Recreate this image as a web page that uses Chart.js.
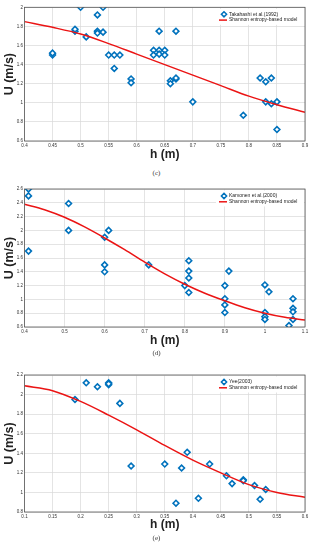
<!DOCTYPE html>
<html>
<head>
<meta charset="utf-8">
<script src="https://cdn.jsdelivr.net/npm/chart.js@4.4.0/dist/chart.umd.min.js"></script>
<style>
  body { margin: 0; background: #fff; width: 313px; height: 550px; position: relative; overflow: hidden; }
  .panel { position: absolute; left: 0; width: 313px; }
  .cap { position: absolute; left: 0; width: 313px; text-align: center; font-family: "Liberation Serif", serif; font-size: 7px; line-height: 8px; color: #333; }
</style>
</head>
<body>
<div class="panel" style="top:0;height:165px"><canvas id="chartC"></canvas></div>
<div class="cap" style="top:169px">(c)</div>
<div class="panel" style="top:182px;height:168px"><canvas id="chartD"></canvas></div>
<div class="cap" style="top:349px">(d)</div>
<div class="panel" style="top:368px;height:168px"><canvas id="chartE"></canvas></div>
<div class="cap" style="top:534px">(e)</div>
<script>
// (c) Takahashi et al.(1992)
const takaH = [0.45, 0.45, 0.49, 0.49, 0.50, 0.51, 0.53, 0.53, 0.53, 0.54, 0.54, 0.55, 0.56, 0.57, 0.56,
  0.59, 0.59, 0.63, 0.63, 0.64, 0.64, 0.64, 0.65, 0.65, 0.66, 0.66, 0.67, 0.67, 0.67, 0.70,
  0.79, 0.82, 0.83, 0.84, 0.83, 0.84, 0.85, 0.85]
const takaU = [1.50, 1.52, 1.75, 1.77, 2.00, 1.69, 1.92, 1.75, 1.73, 2.00, 1.74, 1.50, 1.50, 1.50, 1.36,
  1.25, 1.21, 1.55, 1.50, 1.55, 1.51, 1.75, 1.55, 1.50, 1.23, 1.20, 1.75, 1.25, 1.26, 1.01,
  0.87, 1.26, 1.22, 1.26, 1.01, 0.99, 1.01, 0.72]
const modelCH = [0.40, 0.45, 0.50, 0.55, 0.60, 0.65, 0.70, 0.75, 0.80, 0.85, 0.90]
const modelCU = [1.85, 1.79, 1.72, 1.62, 1.51, 1.40, 1.29, 1.18, 1.07, 0.98, 0.90]
const ticksCX = [0.4, 0.45, 0.5, 0.55, 0.6, 0.65, 0.7, 0.75, 0.8, 0.85, 0.9]
const ticksCY = [0.6, 0.8, 1, 1.2, 1.4, 1.6, 1.8, 2]

// (d) Karvonen et al.(2000)
const karvH = [0.41, 0.41, 0.41, 0.51, 0.51, 0.60, 0.61, 0.60, 0.60, 0.71, 0.80, 0.81, 0.81, 0.81, 0.81,
  0.90, 0.90, 0.90, 0.90, 0.91, 1.00, 1.01, 1.00, 1.00, 1.00, 1.06, 1.07, 1.07, 1.07, 1.07]
const karvU = [2.60, 2.50, 1.70, 2.39, 2.00, 1.90, 2.00, 1.50, 1.40, 1.50, 1.20, 1.56, 1.41, 1.31, 1.10,
  1.20, 1.01, 0.92, 0.81, 1.41, 1.21, 1.11, 0.81, 0.75, 0.71, 0.62, 1.01, 0.87, 0.82, 0.71]
const modelDH = [0.40, 0.45, 0.50, 0.55, 0.60, 0.65, 0.70, 0.75, 0.80, 0.85, 0.90, 0.95, 1.00, 1.05, 1.10]
const modelDU = [2.38, 2.30, 2.19, 2.05, 1.89, 1.72, 1.54, 1.37, 1.22, 1.09, 0.98, 0.88, 0.80, 0.74, 0.70]
const ticksDX = [0.4, 0.5, 0.6, 0.7, 0.8, 0.9, 1, 1.1]
const ticksDY = [0.6, 0.8, 1, 1.2, 1.4, 1.6, 1.8, 2, 2.2, 2.4, 2.6]

// (e) Yee(2003)
const yeeH = [0.19, 0.21, 0.23, 0.25, 0.25, 0.25, 0.27, 0.29, 0.35, 0.37, 0.38, 0.39, 0.41, 0.43,
  0.46, 0.47, 0.49, 0.49, 0.51, 0.52, 0.53]
const yeeU = [1.95, 2.12, 2.08, 2.12, 2.10, 2.11, 1.91, 1.27, 1.29, 0.89, 1.25, 1.41, 0.94, 1.29,
  1.17, 1.09, 1.13, 1.12, 1.07, 0.93, 1.03]
const modelEH = [0.10, 0.15, 0.20, 0.25, 0.30, 0.35, 0.40, 0.45, 0.50, 0.55, 0.60]
const modelEU = [2.09, 2.04, 1.93, 1.79, 1.64, 1.48, 1.33, 1.20, 1.08, 1.00, 0.95]
const ticksEX = [0.1, 0.15, 0.2, 0.25, 0.3, 0.35, 0.4, 0.45, 0.5, 0.55, 0.6]
const ticksEY = [0.8, 1, 1.2, 1.4, 1.6, 1.8, 2, 2.2]

const blue = '#0072BD'
const red = 'rgb(235,20,20)'
const fam = '"Liberation Sans", Arial, sans-serif'

function zip(xs, ys) {
    return xs.map((x, i) => ({ x: x, y: ys[i] }))
}

function fmt(v) {
    return String(+v.toFixed(2))
}

// box round the plot and the legend inside the top right corner
const frame = {
    id: 'frame',
    afterDraw(chart) {
        const ctx = chart.ctx
        const a = chart.chartArea
        ctx.save()
        ctx.strokeStyle = '#555'
        ctx.lineWidth = 0.8
        ctx.strokeRect(a.left, a.top, a.right - a.left, a.bottom - a.top)

        const lx = a.right - 89
        ctx.fillStyle = '#fff'
        ctx.fillRect(lx, a.top + 1.5, 88, 16)
        const sets = chart.data.datasets
        ctx.font = '5px ' + fam
        ctx.textBaseline = 'middle'
        // marker entry
        let yy = a.top + 7
        let cx = a.right - 81
        ctx.beginPath()
        ctx.moveTo(cx, yy - 2.6)
        ctx.lineTo(cx + 2.6, yy)
        ctx.lineTo(cx, yy + 2.6)
        ctx.lineTo(cx - 2.6, yy)
        ctx.closePath()
        ctx.fillStyle = '#fff'
        ctx.fill()
        ctx.strokeStyle = blue
        ctx.lineWidth = 1.5
        ctx.stroke()
        ctx.fillStyle = '#222'
        ctx.fillText(sets[0].label, a.right - 76, yy)
        // line entry
        yy = a.top + 12.8
        ctx.beginPath()
        ctx.moveTo(a.right - 86, yy)
        ctx.lineTo(a.right - 78, yy)
        ctx.strokeStyle = red
        ctx.lineWidth = 1.5
        ctx.stroke()
        ctx.fillText(sets[1].label, a.right - 76, yy)
        ctx.restore()
    }
}

function makeChart(id, cfg) {
    return new Chart(document.getElementById(id), {
        type: 'scatter',
        data: {
            datasets: [{
                type: 'scatter',
                label: cfg.name,
                data: zip(cfg.h, cfg.u),
                pointStyle: 'rectRot',
                pointRadius: 2.9,
                pointHoverRadius: 2.9,
                pointBorderWidth: 1.6,
                pointBackgroundColor: '#fff',
                pointBorderColor: blue,
                order: 1
            }, {
                type: 'line',
                label: 'Shannon entropy-based model',
                data: zip(cfg.mh, cfg.mu),
                borderColor: red,
                borderWidth: 1.5,
                pointRadius: 0,
                cubicInterpolationMode: 'monotone',
                fill: false,
                order: 0
            }]
        },
        options: {
            responsive: true,
            maintainAspectRatio: false,
            animation: false,
            events: [],
            layout: { padding: { top: cfg.padTop, right: 8, left: 0, bottom: 0 } },
            plugins: { legend: { display: false }, tooltip: { enabled: false } },
            scales: {
                x: {
                    type: 'linear',
                    min: cfg.tx[0],
                    max: cfg.tx[cfg.tx.length - 1],
                    afterBuildTicks: s => { s.ticks = cfg.tx.map(v => ({ value: v })) },
                    afterFit: s => { s.height = cfg.xh },
                    grid: { color: '#d8d8d8', lineWidth: 0.7, drawTicks: false },
                    border: { display: false },
                    ticks: { font: { size: 4.5, family: fam }, color: '#333', padding: 2, maxRotation: 0, autoSkip: false, callback: v => fmt(v) },
                    title: { display: true, text: 'h (m)', font: { size: 12, weight: 'bold', family: fam }, color: '#222', padding: { top: 0, bottom: cfg.tpad } }
                },
                y: {
                    type: 'linear',
                    min: cfg.ty[0],
                    max: cfg.ty[cfg.ty.length - 1],
                    afterBuildTicks: s => { s.ticks = cfg.ty.map(v => ({ value: v })) },
                    afterFit: s => { s.width = 24.5 },
                    grid: { color: '#d8d8d8', lineWidth: 0.7, drawTicks: false },
                    border: { display: false },
                    ticks: { font: { size: 4.5, family: fam }, color: '#333', padding: 1.5, autoSkip: false, callback: v => fmt(v) },
                    title: { display: true, text: 'U (m/s)', font: { size: 12.5, weight: 'bold', family: fam }, color: '#222', padding: { top: 2.5, bottom: 0 } }
                }
            }
        },
        plugins: [frame]
    })
}

makeChart('chartC', { name: 'Takahashi et al.(1992)', h: takaH, u: takaU, mh: modelCH, mu: modelCU, tx: ticksCX, ty: ticksCY, padTop: 7.3, xh: 24, tpad: 2.8 })
makeChart('chartD', { name: 'Karvonen et al.(2000)', h: karvH, u: karvU, mh: modelDH, mu: modelDU, tx: ticksDX, ty: ticksDY, padTop: 7, xh: 23, tpad: 1.8 })
makeChart('chartE', { name: 'Yee(2003)', h: yeeH, u: yeeU, mh: modelEH, mu: modelEU, tx: ticksEX, ty: ticksEY, padTop: 7, xh: 24, tpad: 3.8 })
</script>
</body>
</html>
